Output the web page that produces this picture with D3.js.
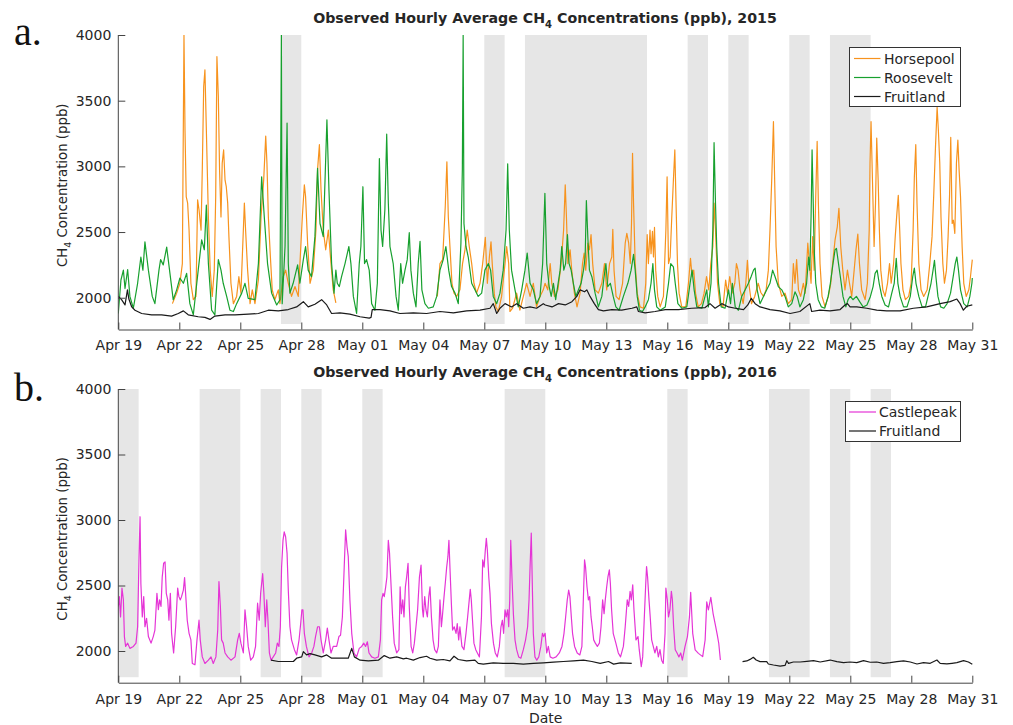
<!DOCTYPE html>
<html>
<head>
<meta charset="utf-8">
<script src="https://cdn.jsdelivr.net/npm/d3@7"></script>
<style>
  html, body { margin: 0; padding: 0; background: #fff; }
  svg { display: block; font-family: "DejaVu Sans", sans-serif; }
</style>
</head>
<body>
<svg id="chart" width="1013" height="725"></svg>
<script>
// Hourly CH4 observations, Uinta Basin, spring 2015 and 2016.
// Each point: [days since Apr 19 00:00, ppb]; null marks a data gap.

const horsepool2015 = [
  [2.66,1955],[2.87,2035],[3.03,2110],[3.15,2260],[3.23,4000],[3.28,3280],[3.34,2770],[3.41,2720],[3.48,2515],[3.57,2110],
  [3.69,1985],[3.82,2010],[3.9,2745],[3.97,2670],[4.07,2515],[4.13,2975],[4.2,3610],[4.26,3735],[4.33,3280],[4.43,2615],
  [4.52,2210],[4.62,2010],[4.72,2210],[4.79,2770],[4.85,3835],[4.92,3530],[4.98,2975],[5.05,2615],[5.11,3025],[5.18,3125],
  [5.25,2895],[5.31,2845],[5.38,2720],[5.44,2465],[5.54,2110],[5.66,1955],[5.82,2010],[5.93,2160],[6.03,2035],[6.15,2515],
  [6.2,2720],[6.26,2515],[6.36,2210],[6.48,1955],[6.59,2060],[6.72,1955],[6.89,2135],[7.02,2615],[7.15,2895],[7.25,3230],
  [7.31,3025],[7.38,2615],[7.48,2310],[7.57,2060],[7.7,1985],[7.87,2060],[7.95,1955],[8.11,2160],[8.23,2210],[8.36,2110],
  [8.52,2010],[8.69,2085],[8.85,2010],[9.05,2615],[9.15,2860],[9.21,2770],[9.31,2415],[9.43,2110],[9.59,2210],[9.72,2515],
  [9.8,2975],[9.89,3165],[9.97,2820],[10.08,2515],[10.2,2365],[10.33,2515],[10.46,2260],[10.57,2060],[10.7,1960],[10.72,null],
  [15.69,2010],[15.82,2260],[15.95,2290],[16.08,2695],[16.16,3035],[16.23,2615],[16.31,2390],[16.41,2110],[16.51,2035],[16.64,2010],
  [16.8,2060],[16.93,2260],[17.05,2365],[17.16,2515],[17.26,2390],[17.38,2260],[17.49,2110],[17.62,2035],[17.79,2110],[17.92,2260],
  [18.05,2460],[18.15,2110],[18.25,2310],[18.33,2425],[18.39,2260],[18.49,2035],[18.57,1930],[18.69,1895],[18.85,2010],[19.02,2260],
  [19.1,2390],[19.2,2260],[19.26,1895],[19.39,1920],[19.59,2035],[19.75,1905],[19.92,2010],[20.08,2110],[20.25,2010],[20.41,2110],
  [20.57,1930],[20.74,2010],[20.9,2060],[20.99,2110],[21.12,2060],[21.24,2260],[21.32,2110],[21.45,2010],[21.62,2060],[21.78,2260],
  [21.9,2515],[21.98,2860],[22.04,2615],[22.11,2260],[22.22,2365],[22.3,2210],[22.43,2035],[22.56,1930],[22.71,2035],[22.83,2260],
  [22.91,2340],[22.99,2210],[23.09,2415],[23.17,2365],[23.25,2480],[23.33,2260],[23.45,2060],[23.61,2035],[23.78,2110],[23.91,2260],
  [24.02,2060],[24.16,2260],[24.27,2310],[24.32,2520],[24.38,2210],[24.48,2010],[24.63,1985],[24.8,2110],[24.93,2415],[25.01,2490],
  [25.1,2415],[25.18,2260],[25.24,2565],[25.29,3100],[25.34,2720],[25.42,2260],[25.52,2035],[25.66,1930],[25.83,1920],[25.94,2110],
  [26.01,2480],[26.07,2260],[26.15,2515],[26.2,2335],[26.27,2505],[26.32,2310],[26.37,2535],[26.43,2210],[26.53,2010],[26.65,1930],
  [26.81,2010],[26.93,2515],[26.99,2920],[27.06,2260],[27.14,2310],[27.22,2615],[27.3,2895],[27.37,3125],[27.43,2720],[27.5,2260],
  [27.58,2035],[27.71,1930],[27.91,1930],[28.04,2110],[28.14,2300],[28.22,2160],[28.3,2210],[28.39,2035],[28.52,1930],[28.68,1955],
  [28.81,2035],[28.93,2160],[29.04,2060],[29.14,2260],[29.24,2390],[29.3,2720],[29.37,2515],[29.47,2110],[29.58,1955],[29.74,1930],
  [29.87,2135],[29.96,2035],[30.07,2160],[30.19,2035],[30.32,2110],[30.4,2260],[30.48,2210],[30.58,2060],[30.73,1955],[30.86,2110],
  [30.94,2285],[31.01,2110],[31.14,1955],[31.3,2010],[31.47,2110],[31.6,2040],[31.73,2010],[31.86,2060],[31.97,2210],[32.05,2515],
  [32.14,2920],[32.22,3340],[32.28,2895],[32.35,2390],[32.46,2110],[32.63,2010],[32.79,2035],[32.95,1955],[33.12,1985],[33.2,2260],
  [33.28,2110],[33.36,2290],[33.45,2060],[33.56,2010],[33.69,2110],[33.78,2035],[33.91,2415],[33.99,2260],[34.07,2110],[34.15,2465],
  [34.22,2210],[34.3,2770],[34.37,3190],[34.43,2720],[34.51,2260],[34.61,2010],[34.76,1930],[34.92,2010],[35.04,2110],[35.13,2260],
  [35.25,2440],[35.36,2540],[35.44,2680],[35.53,2390],[35.63,2210],[35.74,2060],[35.86,2210],[35.96,2110],[36.07,2010],[36.19,2210],
  [36.28,2365],[36.37,2485],[36.45,2260],[36.56,2060],[36.73,1985],[36.84,2110],[36.93,2515],[36.97,3025],[37.02,3340],[37.09,2895],
  [37.17,2390],[37.24,2720],[37.3,3215],[37.37,2895],[37.43,2515],[37.5,2210],[37.6,2060],[37.71,2010],[37.83,2110],[37.93,2260],
  [38.01,2110],[38.13,2260],[38.21,2465],[38.29,2640],[38.36,2780],[38.43,2515],[38.49,2260],[38.59,2060],[38.71,1985],[38.87,2010],
  [38.99,2110],[39.09,2515],[39.15,2920],[39.22,3165],[39.28,2720],[39.37,2260],[39.48,2060],[39.61,2010],[39.78,2060],[39.91,2260],
  [40.02,2465],[40.1,2770],[40.19,3150],[40.27,3450],[40.33,3280],[40.4,3025],[40.46,2615],[40.55,2260],[40.63,2110],[40.73,2210],
  [40.81,2465],[40.88,2770],[40.94,3220],[41.01,2565],[41.07,2590],[41.14,2490],[41.22,3025],[41.29,3200],[41.35,2975],[41.42,2770],
  [41.5,2390],[41.58,2110],[41.7,2010],[41.83,2060],[41.91,2160],[42.0,2290]
];

const roosevelt2015 = [
  [0,1880],[0.13,2135],[0.25,2210],[0.33,2070],[0.46,2215],[0.57,2010],[0.74,1920],[0.95,2110],[1.11,2310],[1.21,2210],
  [1.31,2425],[1.48,2210],[1.67,2010],[1.8,1955],[2.0,2210],[2.08,2290],[2.21,2250],[2.38,2385],[2.54,2185],[2.7,1985],
  [2.87,2060],[3.03,2150],[3.2,2110],[3.36,2185],[3.52,1955],[3.69,1870],[3.93,2210],[4.1,2440],[4.23,2365],[4.33,2705],
  [4.43,2260],[4.59,1905],[4.75,1870],[4.92,2290],[5.05,2210],[5.16,2110],[5.33,2010],[5.49,1905],[5.66,1895],[5.82,1955],
  [6.07,2035],[6.23,2110],[6.39,1995],[6.72,1985],[6.89,2260],[7.05,2920],[7.18,2615],[7.34,2260],[7.54,2035],[7.79,1945],
  [7.95,1985],[8.02,4000],[8.06,1955],[8.2,2390],[8.3,3330],[8.36,2260],[8.44,2035],[8.6,2110],[8.82,2250],[8.93,2110],
  [9.1,2290],[9.21,2390],[9.34,2210],[9.5,2160],[9.67,2465],[9.8,2985],[9.92,2565],[10.08,2465],[10.26,3355],[10.36,2820],
  [10.49,2260],[10.61,2035],[10.7,2210],[10.77,2110],[10.87,2085],[10.98,2160],[11.15,2260],[11.34,2390],[11.44,2260],[11.56,2010],
  [11.72,1880],[11.85,2260],[11.93,2390],[12.03,2845],[12.11,2260],[12.21,2290],[12.34,2210],[12.46,1955],[12.62,1905],[12.74,2110],
  [12.84,3060],[12.92,2515],[13.0,2390],[13.11,2670],[13.2,3245],[13.28,2720],[13.36,2390],[13.52,2260],[13.66,2010],[13.77,1905],
  [13.89,2260],[13.98,2110],[14.1,2210],[14.21,2290],[14.31,2495],[14.39,2210],[14.51,2035],[14.64,1930],[14.75,2260],[14.84,2430],
  [14.93,2060],[15.08,1955],[15.25,1920],[15.49,1930],[15.66,2010],[15.82,2210],[15.98,2290],[16.11,2390],[16.25,2210],[16.39,2085],
  [16.56,2035],[16.72,1955],[16.85,2415],[16.92,2975],[16.96,4000],[17.0,2565],[17.1,2390],[17.21,2310],[17.38,2110],[17.54,2060],
  [17.7,2010],[17.87,2035],[18.03,2210],[18.2,2260],[18.31,2210],[18.44,2010],[18.61,1955],[18.77,2035],[18.93,2210],[19.07,2515],
  [19.15,3020],[19.23,2515],[19.34,2210],[19.51,2060],[19.67,1930],[19.84,2060],[20.0,2210],[20.11,2340],[20.25,2110],[20.41,2060],
  [20.57,1955],[20.74,2010],[20.87,2260],[20.98,2795],[21.07,2260],[21.19,2085],[21.29,2010],[21.4,2110],[21.51,1985],[21.73,2210],
  [21.81,2390],[21.91,2210],[22.0,2260],[22.09,2480],[22.17,2260],[22.27,2210],[22.38,2110],[22.5,2010],[22.63,2060],[22.76,2110],
  [22.88,2210],[22.96,2310],[23.02,2740],[23.09,2465],[23.17,2210],[23.29,2160],[23.45,2035],[23.61,1930],[23.78,2010],[23.89,2160],
  [23.98,2260],[24.07,2085],[24.2,2110],[24.34,2010],[24.47,1930],[24.63,1905],[24.84,2010],[25.06,2110],[25.22,2210],[25.34,2330],
  [25.42,2210],[25.52,2010],[25.63,1905],[25.78,1895],[25.91,1930],[26.07,1985],[26.2,2110],[26.29,2260],[26.37,2060],[26.48,1930],
  [26.65,1905],[26.9,1930],[27.06,2110],[27.17,2260],[27.3,2235],[27.39,2110],[27.52,1955],[27.71,1920],[27.96,1930],[28.12,2110],
  [28.22,2210],[28.32,2060],[28.45,1930],[28.7,1920],[28.94,2060],[29.02,1930],[29.15,2110],[29.24,2515],[29.3,3180],[29.37,2720],
  [29.43,2390],[29.52,2110],[29.65,1930],[29.84,1920],[30.01,2060],[30.11,1955],[30.2,2110],[30.34,1930],[30.5,1905],[30.66,2010],
  [30.83,2060],[30.99,2110],[31.12,2160],[31.24,2210],[31.32,2225],[31.42,2060],[31.56,1955],[31.73,2010],[31.89,2060],[32.05,2110],
  [32.18,2210],[32.3,2160],[32.46,2085],[32.63,2060],[32.79,2010],[32.95,1930],[33.12,1955],[33.28,2045],[33.39,2010],[33.52,1930],
  [33.69,1985],[33.85,2110],[33.95,2310],[34.01,2210],[34.07,2615],[34.12,3125],[34.17,2770],[34.22,2390],[34.3,2110],[34.42,1985],
  [34.58,1930],[34.74,1920],[34.91,2010],[35.02,2110],[35.15,2260],[35.25,2365],[35.32,2375],[35.42,2260],[35.51,2160],[35.64,2010],
  [35.78,1930],[35.89,1985],[36.0,2010],[36.13,1985],[36.3,2010],[36.46,1970],[36.63,1930],[36.82,1945],[36.99,2010],[37.12,2085],
  [37.22,2185],[37.32,2210],[37.42,2110],[37.55,2010],[37.71,1945],[37.88,1930],[38.04,2035],[38.16,2110],[38.26,2300],[38.34,2110],
  [38.45,2010],[38.62,1930],[38.79,1930],[38.95,2010],[39.07,2160],[39.15,2225],[39.23,2110],[39.37,2010],[39.53,1930],[39.7,1930],
  [39.86,2035],[39.97,2110],[40.07,2210],[40.14,2285],[40.21,2160],[40.31,2010],[40.44,1930],[40.6,1920],[40.76,1955],[40.93,2035],
  [41.06,2160],[41.16,2260],[41.24,2310],[41.32,2210],[41.42,2060],[41.58,1955],[41.75,1930],[41.88,2010],[41.98,2110],[42.0,2150]
];

const fruitland2015 = [
  [0,2010],[0.16,1985],[0.33,1945],[0.45,2060],[0.52,1990],[0.66,1930],[0.82,1905],[1.15,1880],[1.64,1870],[2.13,1870],
  [2.62,1860],[2.95,1880],[3.2,1900],[3.44,1870],[3.93,1855],[4.26,1850],[4.51,1835],[4.75,1860],[5.25,1870],[5.74,1870],
  [6.39,1875],[6.89,1880],[7.38,1905],[7.87,1900],[8.36,1910],[8.77,1930],[9.1,1970],[9.34,1930],[9.67,1950],[10.0,1985],
  [10.25,1945],[10.49,1880],[10.9,1885],[11.39,1875],[11.89,1855],[12.34,1845],[12.43,1850],[12.49,1910],[12.87,1910],[13.36,1900],
  [13.85,1880],[14.51,1885],[15.16,1880],[15.82,1895],[16.48,1885],[17.13,1900],[17.79,1905],[18.28,1920],[18.44,1955],[18.61,1880],
  [18.77,1920],[19.02,1955],[19.34,1930],[19.59,1955],[19.92,1920],[20.25,1930],[20.57,1920],[20.9,1955],[21.0,1945],[21.33,1930],
  [21.65,1955],[21.98,1945],[22.31,1970],[22.55,2010],[22.71,2060],[22.93,2045],[23.04,2060],[23.2,2010],[23.41,1955],[23.61,1910],
  [23.86,1900],[24.27,1910],[24.76,1905],[25.26,1920],[25.5,1930],[25.58,1895],[25.91,1885],[26.4,1895],[26.9,1910],[27.55,1910],
  [28.2,1920],[28.86,1925],[29.1,1955],[29.35,1920],[29.68,1955],[30.01,1930],[30.34,1920],[30.75,1910],[30.96,1945],[31.13,1995],
  [31.32,1955],[31.56,1930],[32.05,1910],[32.54,1900],[33.04,1880],[33.52,1895],[34.01,1955],[34.1,1895],[34.51,1905],[35.0,1900],
  [35.5,1910],[35.74,1945],[35.86,1955],[35.99,1930],[36.32,1930],[36.81,1920],[37.3,1905],[37.79,1900],[38.45,1900],[39.1,1920],
  [39.76,1930],[40.42,1955],[40.91,1970],[41.24,1990],[41.4,1955],[41.56,1905],[41.73,1935],[42.0,1945]
];

const castlepeak2016 = [
  [0,2340],[0.05,2415],[0.11,2260],[0.18,2480],[0.25,2390],[0.3,2110],[0.36,2035],[0.46,2060],[0.57,2020],[0.74,2035],
  [0.87,2060],[0.95,2185],[1.02,2720],[1.07,3025],[1.11,2515],[1.18,2260],[1.25,2415],[1.31,2185],[1.39,2250],[1.48,2110],
  [1.61,2060],[1.72,2110],[1.8,2160],[1.9,2440],[1.97,2315],[2.03,2390],[2.1,2340],[2.16,2565],[2.23,2670],[2.3,2680],
  [2.36,2440],[2.43,2390],[2.49,2235],[2.56,2440],[2.62,2135],[2.72,1985],[2.82,2185],[2.92,2480],[2.98,2415],[3.05,2390],
  [3.11,2415],[3.2,2465],[3.26,2560],[3.33,2390],[3.39,2235],[3.48,2135],[3.57,2085],[3.64,1905],[3.77,1895],[3.87,2085],
  [3.97,2235],[4.03,2085],[4.13,1955],[4.26,1905],[4.43,1930],[4.56,1955],[4.67,1905],[4.8,1955],[4.89,2160],[4.95,2530],
  [5.02,2340],[5.08,2085],[5.16,2060],[5.25,1985],[5.38,1955],[5.54,1930],[5.74,1955],[5.87,2085],[5.95,2135],[6.03,2060],
  [6.15,1985],[6.23,2315],[6.31,2185],[6.39,2035],[6.51,1930],[6.64,1955],[6.75,2035],[6.85,2365],[6.93,2235],[7.0,2440],
  [7.05,2515],[7.1,2590],[7.16,2440],[7.23,2185],[7.3,2390],[7.36,2235],[7.43,1985],[7.51,1930],[7.62,1955],[7.74,1985],
  [7.82,2060],[7.9,2035],[7.97,2185],[8.03,2640],[8.1,2845],[8.16,2910],[8.23,2870],[8.3,2745],[8.36,2465],[8.44,2185],
  [8.52,2085],[8.66,2010],[8.77,1970],[8.89,2085],[8.97,2210],[9.03,2315],[9.08,2315],[9.15,2135],[9.25,2035],[9.38,1955],
  [9.51,1985],[9.62,2035],[9.7,2110],[9.8,2185],[9.89,2185],[9.97,2085],[10.08,1985],[10.2,2085],[10.28,2175],[10.36,2085],
  [10.46,1985],[10.57,2035],[10.74,2035],[10.85,2110],[10.93,2120],[11.02,2260],[11.11,2640],[11.18,2925],[11.25,2795],[11.31,2720],
  [11.39,2390],[11.48,2135],[11.59,1985],[11.72,1955],[11.85,2020],[11.97,2035],[12.07,2060],[12.16,2035],[12.25,2070],[12.33,1985],
  [12.46,1955],[12.62,1945],[12.79,1955],[12.89,2085],[12.95,2390],[13.02,2440],[13.08,2415],[13.15,2490],[13.21,2565],[13.28,2845],
  [13.34,2745],[13.41,2515],[13.49,2260],[13.57,2060],[13.69,1985],[13.8,2010],[13.86,2490],[13.92,2285],[13.99,2390],[14.05,2260],
  [14.12,2490],[14.18,2565],[14.25,2670],[14.31,2340],[14.4,2035],[14.48,1985],[14.56,2060],[14.64,2185],[14.72,2315],[14.81,2565],
  [14.89,2655],[14.96,2315],[15.0,2260],[15.07,2415],[15.13,2315],[15.2,2260],[15.27,2415],[15.33,2490],[15.4,2260],[15.48,2085],
  [15.56,2010],[15.66,1985],[15.74,2035],[15.82,2390],[15.89,2185],[15.95,2285],[16.02,2415],[16.08,2515],[16.15,2640],[16.21,2720],
  [16.26,2845],[16.31,2640],[16.38,2365],[16.44,2160],[16.52,2185],[16.61,2135],[16.67,2210],[16.74,2085],[16.8,2185],[16.9,2035],
  [17.0,2010],[17.1,2135],[17.18,2260],[17.26,2390],[17.31,2470],[17.36,2390],[17.43,2210],[17.49,2060],[17.58,2010],[17.66,1985],
  [17.76,1955],[17.86,2260],[17.92,2695],[17.99,2640],[18.05,2770],[18.1,2860],[18.15,2770],[18.22,2565],[18.28,2440],[18.35,2210],
  [18.45,2060],[18.54,1985],[18.64,1955],[18.74,2035],[18.82,2185],[18.89,2235],[18.95,2135],[19.02,2315],[19.08,2260],[19.15,2315],
  [19.2,2185],[19.25,2390],[19.3,2845],[19.36,2565],[19.43,2285],[19.51,2085],[19.59,2010],[19.69,1955],[19.8,1945],[19.92,2010],
  [20.03,2085],[20.13,2185],[20.2,2390],[20.25,2640],[20.31,2900],[20.36,2515],[20.41,2135],[20.49,1955],[20.58,1930],[20.68,1955],
  [20.78,2035],[20.86,2135],[20.92,2110],[20.99,2135],[21.07,1985],[21.15,2035],[21.24,1955],[21.37,1945],[21.53,1955],[21.69,1985],
  [21.82,2035],[21.92,2135],[22.0,2260],[22.08,2390],[22.15,2465],[22.21,2415],[22.28,2260],[22.34,2135],[22.44,2035],[22.57,1985],
  [22.7,1970],[22.8,2035],[22.87,2390],[22.93,2695],[22.98,2640],[23.05,2490],[23.12,2390],[23.18,2415],[23.25,2260],[23.31,2185],
  [23.38,2085],[23.46,2060],[23.56,2035],[23.66,2060],[23.74,2185],[23.82,2390],[23.89,2285],[23.95,2390],[24.02,2490],[24.08,2565],
  [24.15,2620],[24.2,2515],[24.26,2315],[24.34,2135],[24.47,2060],[24.59,1985],[24.7,1955],[24.84,2035],[24.93,2185],[25.03,2390],
  [25.1,2340],[25.17,2455],[25.23,2390],[25.3,2505],[25.36,2315],[25.46,2085],[25.56,2110],[25.62,2010],[25.72,1880],[25.79,1955],
  [25.87,2260],[25.94,2515],[25.98,2645],[26.03,2565],[26.1,2390],[26.16,2260],[26.23,2085],[26.31,2035],[26.39,1985],[26.48,2035],
  [26.56,1955],[26.64,2010],[26.72,1930],[26.8,1905],[26.89,2135],[26.93,2480],[27.0,2390],[27.06,2260],[27.13,2315],[27.2,2455],
  [27.25,2390],[27.31,2185],[27.39,2010],[27.48,1985],[27.57,1955],[27.66,1985],[27.74,1930],[27.87,2033],[27.99,2109],[28.09,2262],
  [28.15,2448],[28.25,2135],[28.37,2008],[28.53,1982],[28.74,1957],[28.86,2084],[28.94,2376],[29.02,2313],[29.14,2410],[29.25,2288],
  [29.38,2186],[29.46,2122],[29.53,2059],[29.61,1931]
];

const fruitland2016 = [
  [7.51,1930],[7.87,1920],[8.2,1920],[8.61,1920],[8.77,1945],[9.02,1955],[9.1,1995],[9.26,1970],[9.43,1980],[9.67,1970],
  [10.0,1955],[10.25,1970],[10.49,1945],[10.82,1945],[11.31,1945],[11.48,2020],[11.61,1955],[11.89,1930],[12.3,1925],[12.79,1930],
  [13.08,1965],[13.36,1945],[13.69,1955],[14.02,1940],[14.18,1945],[14.51,1930],[14.84,1950],[15.16,1960],[15.33,1945],[15.66,1930],
  [15.98,1935],[16.31,1925],[16.51,1960],[16.72,1935],[17.13,1925],[17.54,1930],[17.7,1905],[17.95,1900],[18.44,1910],[18.93,1905],
  [19.43,1905],[19.92,1900],[20.41,1905],[20.9,1910],[21.4,1915],[21.89,1920],[22.39,1925],[22.88,1930],[23.29,1920],[23.7,1905],
  [24.11,1920],[24.36,1900],[24.69,1910],[25.25,1905],[25.3,null],
  [30.7,1919],[30.91,1924],[31.07,1936],[31.23,1952],[31.37,1931],[31.56,1919],[31.89,1919],[31.97,1901],[32.22,1893],[32.55,1885],
  [32.79,1890],[32.88,1926],[32.96,1906],[33.2,1916],[33.53,1916],[33.86,1921],[34.19,1926],[34.52,1916],[35.01,1931],[35.34,1919],
  [35.67,1911],[35.99,1916],[36.32,1911],[36.65,1926],[36.98,1914],[37.3,1916],[37.63,1906],[37.96,1911],[38.29,1919],[38.62,1924],
  [38.95,1916],[39.28,1901],[39.6,1911],[39.93,1906],[40.26,1931],[40.42,1906],[40.75,1901],[41.0,1906],[41.24,1911],[41.57,1926],
  [41.81,1916],[42.0,1898]
];

// Shaded periods (start day, end day)
const shade2015 = [["Apr 27","Apr 28"],["May 07","May 08"],["May 09","May 15"],["May 17","May 18"],
                   ["May 19","May 20"],["May 22","May 23"],["May 24","May 26"]];
const shade2016 = [["Apr 19","Apr 20"],["Apr 23","Apr 25"],["Apr 26","Apr 27"],["Apr 28","Apr 29"],
                   ["May 01","May 02"],["May 08","May 10"],["May 16","May 17"],["May 21","May 23"],
                   ["May 24","May 25"],["May 26","May 27"]];

const yTicks = [2000, 2500, 3000, 3500, 4000];
const yDomain = [1800, 4000];

const colors = { Horsepool: "#f7931e", Roosevelt: "#17a02e", Fruitland: "#1a1a1a", Castlepeak: "#e535d6" };

const panels = [
  { year: 2015, letter: "a.", top: 35, bottom: 324, titleY: 22.5, letterY: 45,
    shades: shade2015,
    series: [["Horsepool", horsepool2015], ["Roosevelt", roosevelt2015], ["Fruitland", fruitland2015]],
    legend: { x: 849.5, y: 47.5, w: 111, h: 59, lineX0: 854, lineX1: 880.5, textX: 884, rowY0: 58.5, rowStep: 19 } },
  { year: 2016, letter: "b.", top: 389, bottom: 677.2, titleY: 376.5, letterY: 401,
    shades: shade2016,
    series: [["Castlepeak", castlepeak2016], ["Fruitland", fruitland2016]],
    legend: { x: 845.5, y: 401.5, w: 115, h: 40, lineX0: 849, lineX1: 876, textX: 879, rowY0: 412, rowStep: 19 } }
];

const svg = d3.select("#chart");
const DAY = 864e5;
const X0 = 118.3, X1 = 972.3;
const axisGap = 5.5;
const textColor = "#262626";

panels.forEach((p, pi) => {
  const start = Date.UTC(p.year, 3, 19);
  const x = d3.scaleUtc().domain([new Date(start), new Date(Date.UTC(p.year, 4, 31))]).range([X0, X1]);
  const y = d3.scaleLinear().domain(yDomain).range([p.bottom, p.top]);
  const parseDay = d3.utcParse("%b %d %Y");
  const g = svg.append("g");

  // shaded periods
  g.append("g").selectAll("rect").data(p.shades).join("rect")
    .attr("x", d => x(parseDay(d[0] + " " + p.year)))
    .attr("width", d => x(parseDay(d[1] + " " + p.year)) - x(parseDay(d[0] + " " + p.year)))
    .attr("y", p.top)
    .attr("height", p.bottom - p.top)
    .attr("fill", "#e6e6e6");

  // series lines
  const clipId = "clip" + pi;
  svg.append("clipPath").attr("id", clipId).append("rect")
    .attr("x", X0).attr("y", p.top).attr("width", X1 - X0 + 2).attr("height", p.bottom - p.top);
  const line = d3.line()
    .defined(d => d[1] != null)
    .x(d => x(new Date(start + d[0] * DAY)))
    .y(d => y(d[1]));
  g.append("g").attr("clip-path", `url(#${clipId})`)
    .selectAll("path").data(p.series).join("path")
    .attr("d", d => line(d[1]))
    .attr("fill", "none")
    .attr("stroke", d => colors[d[0]])
    .attr("stroke-width", 1.2)
    .attr("stroke-linejoin", "round");

  // x axis (offset below the plot, ticks pointing in)
  const axisY = p.bottom + axisGap;
  const xAxis = d3.axisBottom(x)
    .ticks(d3.utcDay.every(3))
    .tickFormat(d3.utcFormat("%b %d"))
    .tickSizeInner(-7).tickSizeOuter(0).tickPadding(11);
  const gx = g.append("g").attr("transform", `translate(0,${axisY})`).call(xAxis);
  gx.select(".domain").attr("stroke", "#444");
  gx.selectAll(".tick line").attr("stroke", "#444");
  gx.selectAll("text").attr("font-size", 14).attr("fill", textColor).attr("font-family", "DejaVu Sans");

  // y axis
  const yAxis = d3.axisLeft(y).tickValues(yTicks).tickFormat(d3.format("d"))
    .tickSizeInner(-7).tickSizeOuter(0).tickPadding(7);
  const gy = g.append("g").attr("transform", `translate(${X0},0)`).call(yAxis);
  gy.select(".domain").remove();
  gy.append("line").attr("x1", 0).attr("x2", 0).attr("y1", p.top).attr("y2", axisY).attr("stroke", "#444");
  gy.selectAll(".tick line").attr("stroke", "#444");
  gy.selectAll("text").attr("font-size", 14).attr("fill", textColor).attr("font-family", "DejaVu Sans");

  // y label
  const yl = g.append("text")
    .attr("transform", `translate(67,${(p.top + axisY) / 2 + 3}) rotate(-90)`)
    .attr("text-anchor", "middle").attr("font-size", 13.3).attr("fill", textColor);
  yl.append("tspan").text("CH");
  yl.append("tspan").attr("font-size", 9.5).attr("dy", 4).text("4");
  yl.append("tspan").attr("dy", -4).text(" Concentration (ppb)");

  // title
  const t = g.append("text").attr("x", 545).attr("y", p.titleY)
    .attr("text-anchor", "middle").attr("font-size", 14.2).attr("font-weight", "bold").attr("fill", textColor);
  t.append("tspan").text("Observed Hourly Average CH");
  t.append("tspan").attr("font-size", 10).attr("dy", 5).text("4");
  t.append("tspan").attr("dy", -5).text(" Concentrations (ppb), " + p.year);

  // panel letter
  g.append("text").attr("x", 14).attr("y", p.letterY)
    .attr("font-family", "Liberation Serif, serif").attr("font-size", 40).attr("fill", "#111").text(p.letter);

  // legend
  const L = p.legend;
  const lg = g.append("g");
  lg.append("rect").attr("x", L.x).attr("y", L.y).attr("width", L.w).attr("height", L.h)
    .attr("fill", "#fff").attr("stroke", "#333").attr("stroke-width", 1);
  p.series.forEach((s, i) => {
    const ry = L.rowY0 + i * L.rowStep;
    lg.append("line").attr("x1", L.lineX0).attr("x2", L.lineX1).attr("y1", ry).attr("y2", ry)
      .attr("stroke", colors[s[0]]).attr("stroke-width", 1.2);
    lg.append("text").attr("x", L.textX).attr("y", ry + 5).attr("font-size", 14).attr("fill", textColor).text(s[0]);
  });
});

// shared x label
svg.append("text").attr("x", 545.7).attr("y", 723).attr("text-anchor", "middle")
  .attr("font-size", 14).attr("fill", textColor).text("Date");
</script>
</body>
</html>
